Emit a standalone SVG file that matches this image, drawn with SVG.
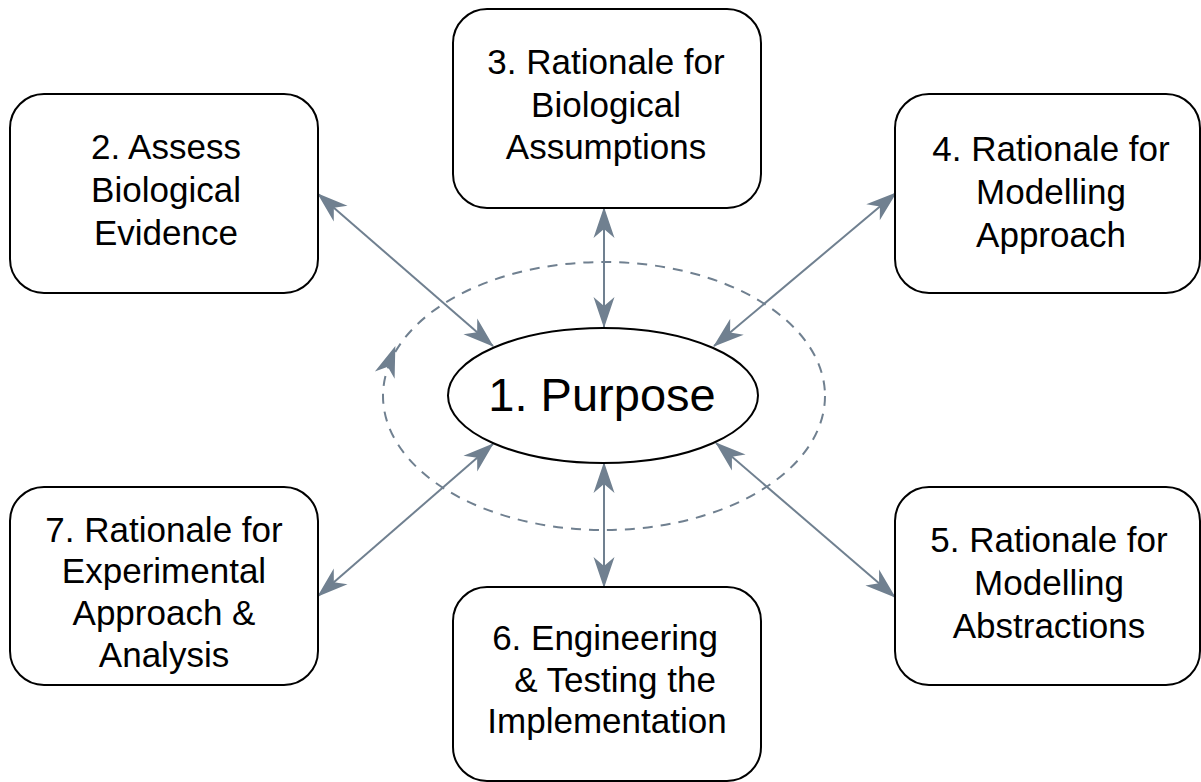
<svg xmlns="http://www.w3.org/2000/svg" width="1201" height="782" viewBox="0 0 1201 782">
<style>
.box{fill:#fff;stroke:#000;stroke-width:2}
.lbl{font-family:"Liberation Sans",Arial,sans-serif;font-size:35px;fill:#000;text-anchor:middle}
.big{font-size:47px}
.conn{stroke:#708090;stroke-width:2;fill:none}
.dash{stroke:#708090;stroke-width:2;fill:none;stroke-dasharray:10 8}
.head{fill:#708090}
</style>
<defs>
<marker id="arr" markerUnits="userSpaceOnUse" markerWidth="34" markerHeight="24" viewBox="-32 -12 34 24" refX="0" refY="0" orient="auto-start-reverse">
<path class="head" d="M1,0 L-30,-10.5 L-21,0 L-30,10.5 Z"/>
</marker>
</defs>
<rect width="1201" height="782" fill="#fff"/>
<g id="connectors">
<ellipse class="dash" cx="604" cy="396" rx="221" ry="134"/>
<path class="head" transform="translate(395,347) rotate(-70)" d="M1,0 L-30,-10.5 L-21,0 L-30,10.5 Z"/>
<line class="conn" x1="318" y1="194" x2="493" y2="346" marker-start="url(#arr)" marker-end="url(#arr)"/>
<line class="conn" x1="604" y1="208" x2="604" y2="327" marker-start="url(#arr)" marker-end="url(#arr)"/>
<line class="conn" x1="896" y1="193" x2="714" y2="346" marker-start="url(#arr)" marker-end="url(#arr)"/>
<line class="conn" x1="318" y1="596" x2="493" y2="444" marker-start="url(#arr)" marker-end="url(#arr)"/>
<line class="conn" x1="716" y1="443" x2="895" y2="597" marker-start="url(#arr)" marker-end="url(#arr)"/>
<line class="conn" x1="604" y1="463" x2="604" y2="587" marker-start="url(#arr)" marker-end="url(#arr)"/>
</g>
<g id="n1">
<ellipse class="box" cx="603" cy="395.5" rx="155" ry="67.5"/>
<text class="lbl big" x="602" y="411">1. Purpose</text>
</g>
<g id="n2">
<rect class="box" x="10" y="94" width="308" height="199" rx="34" ry="34"/>
<text class="lbl" x="166" y="159">2. Assess</text>
<text class="lbl" x="166" y="202">Biological</text>
<text class="lbl" x="166" y="245">Evidence</text>
</g>
<g id="n3">
<rect class="box" x="453" y="9" width="308" height="199" rx="34" ry="34"/>
<text class="lbl" x="606" y="74">3. Rationale for</text>
<text class="lbl" x="606" y="117">Biological</text>
<text class="lbl" x="606" y="159">Assumptions</text>
</g>
<g id="n4">
<rect class="box" x="895" y="94" width="305" height="199" rx="34" ry="34"/>
<text class="lbl" x="1051" y="161">4. Rationale for</text>
<text class="lbl" x="1051" y="204">Modelling</text>
<text class="lbl" x="1051" y="247">Approach</text>
</g>
<g id="n5">
<rect class="box" x="895" y="487" width="305" height="198" rx="34" ry="34"/>
<text class="lbl" x="1049" y="552">5. Rationale for</text>
<text class="lbl" x="1049" y="595">Modelling</text>
<text class="lbl" x="1049" y="638">Abstractions</text>
</g>
<g id="n6">
<rect class="box" x="453" y="587" width="308" height="194" rx="34" ry="34"/>
<text class="lbl" x="605" y="650">6. Engineering</text>
<text class="lbl" x="615" y="692">&amp; Testing the</text>
<text class="lbl" x="607" y="733">Implementation</text>
</g>
<g id="n7">
<rect class="box" x="10" y="487" width="308" height="198" rx="34" ry="34"/>
<text class="lbl" x="164" y="542">7. Rationale for</text>
<text class="lbl" x="164" y="583">Experimental</text>
<text class="lbl" x="164" y="625">Approach &amp;</text>
<text class="lbl" x="164" y="667">Analysis</text>
</g>
</svg>
